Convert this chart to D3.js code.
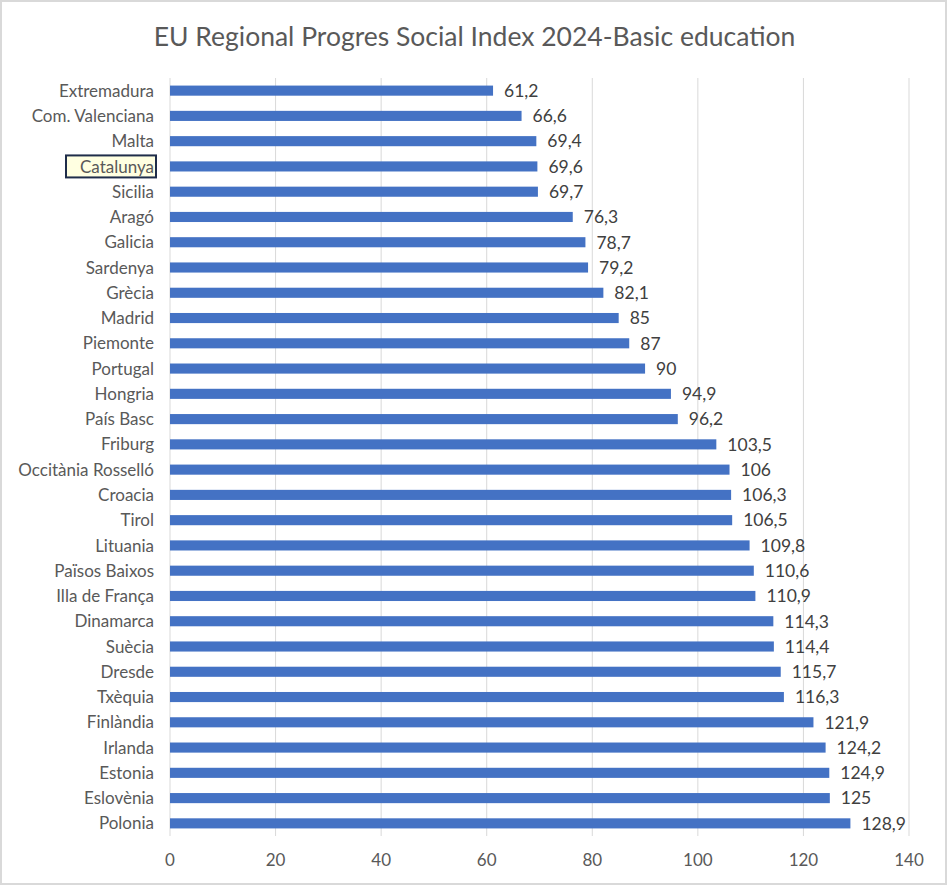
<!DOCTYPE html>
<html>
<head>
<meta charset="utf-8">
<script src="https://cdn.jsdelivr.net/npm/d3@7"></script>
<style>
  html, body { margin: 0; padding: 0; background: #fff; }
  svg text { font-family: Lato, "Open Sans", sans-serif; }
</style>
</head>
<body>
<div id="chart"></div>
<script>
'use strict';

// Dades del gràfic (de dalt a baix)
var regions = [
  "Extremadura", "Com. Valenciana", "Malta", "Catalunya", "Sicilia", "Aragó",
  "Galicia", "Sardenya", "Grècia", "Madrid", "Piemonte", "Portugal", "Hongria",
  "País Basc", "Friburg", "Occitània Rosselló", "Croacia", "Tirol", "Lituania",
  "Països Baixos", "Illa de França", "Dinamarca", "Suècia", "Dresde", "Txèquia",
  "Finlàndia", "Irlanda", "Estonia", "Eslovènia", "Polonia"
];
var values = [
  61.2, 66.6, 69.4, 69.6, 69.7, 76.3, 78.7, 79.2, 82.1, 85, 87, 90, 94.9,
  96.2, 103.5, 106, 106.3, 106.5, 109.8, 110.6, 110.9, 114.3, 114.4, 115.7, 116.3,
  121.9, 124.2, 124.9, 125, 128.9
];
var xTicks = [0, 20, 40, 60, 80, 100, 120, 140];
var highlighted = "Catalunya";
var title = "EU Regional Progres Social Index 2024-Basic education";

var W = 947, H = 885;
var margin = {top: 78, right: 38, bottom: 49, left: 170};

var svg = d3.select("#chart").append("svg")
    .attr("width", W)
    .attr("height", H);

// Vora del gràfic
svg.append("rect")
    .attr("x", 1).attr("y", 1)
    .attr("width", W - 2).attr("height", H - 2)
    .attr("fill", "#fff")
    .attr("stroke", "#d9d9d9")
    .attr("stroke-width", 2);

var x = d3.scaleLinear()
    .domain([0, 140])
    .range([margin.left, W - margin.right]);

var y = d3.scaleBand()
    .domain(regions)
    .range([margin.top, H - margin.bottom])
    .paddingInner(0.6)
    .paddingOuter(0.3);

// Títol
svg.append("text")
    .attr("x", W / 2 + 1)
    .attr("y", 46)
    .attr("text-anchor", "middle")
    .attr("font-size", 26.5)
    .attr("fill", "#595959")
    .text(title);

// Línies de la graella
svg.append("g").selectAll("line")
    .data(xTicks)
    .enter().append("line")
    .attr("x1", function(d) { return x(d); })
    .attr("x2", function(d) { return x(d); })
    .attr("y1", margin.top)
    .attr("y2", H - margin.bottom)
    .attr("stroke", "#d9d9d9")
    .attr("stroke-width", 1);

// Etiquetes de l'eix X
svg.append("g").selectAll("text")
    .data(xTicks)
    .enter().append("text")
    .attr("x", function(d) { return x(d); })
    .attr("y", 866)
    .attr("text-anchor", "middle")
    .attr("font-size", 17)
    .attr("fill", "#595959")
    .text(function(d) { return d; });

var data = regions.map(function(r, i) { return {name: r, value: values[i]}; });

// Barres
svg.append("g").selectAll("rect")
    .data(data)
    .enter().append("rect")
    .attr("x", x(0))
    .attr("y", function(d) { return y(d.name); })
    .attr("width", function(d) { return x(d.value) - x(0); })
    .attr("height", y.bandwidth())
    .attr("fill", "#4472c4");

// Valors
svg.append("g").selectAll("text")
    .data(data)
    .enter().append("text")
    .attr("x", function(d) { return x(d.value) + 11; })
    .attr("y", function(d) { return y(d.name) + y.bandwidth() / 2; })
    .attr("dy", "0.36em")
    .attr("font-size", 17.5)
    .attr("fill", "#404040")
    .text(function(d) { return String(d.value).replace(".", ","); });

// Categories
var labelX = margin.left - 16;
var hl = svg.append("g");
svg.append("g").selectAll("text")
    .data(data)
    .enter().append("text")
    .attr("x", labelX)
    .attr("y", function(d) { return y(d.name) + y.bandwidth() / 2; })
    .attr("dy", "0.36em")
    .attr("text-anchor", "end")
    .attr("font-size", 17)
    .attr("fill", "#595959")
    .text(function(d) { return d.name; });

// Requadre de la categoria destacada
var cy = y(highlighted) + y.bandwidth() / 2;
hl.append("rect")
    .attr("x", 66)
    .attr("y", cy - 11)
    .attr("width", labelX - 66 + 2)
    .attr("height", 22)
    .attr("fill", "#ffffe1")
    .attr("stroke", "#1f2d4a")
    .attr("stroke-width", 2);
</script>
</body>
</html>
